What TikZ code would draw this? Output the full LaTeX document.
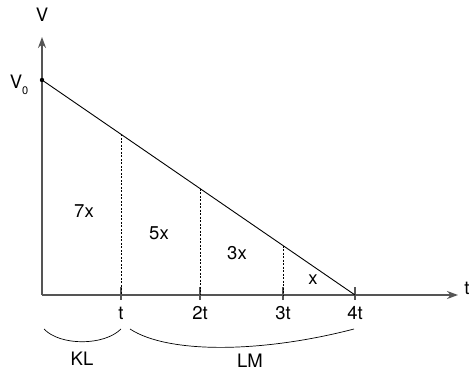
\documentclass[tikz,border=0pt]{standalone}
\usepackage{fontspec}
\setmainfont{TeX Gyre Heros}
\usetikzlibrary{arrows.meta,positioning}
\definecolor{axisGray}{RGB}{85, 85, 85}

\begin{document}
\begin{tikzpicture}[x=1pt,y=1pt,
          axis/.style={axisGray,line width=1.6pt,-{Stealth[length=11pt,width=8pt]}},
          tick/.style={axisGray,line width=1.2pt},
          guide/.style={black,line width=0.8pt,dash pattern=on 2pt off 1.5pt},
          lbl/.style={font=\fontsize{18.5}{20}\selectfont,inner sep=1pt},
          brace/.style={black,line width=0.7pt},
        ]
        \useasboundingbox (0,0) rectangle (470,374);
        % AXES
        \coordinate (o)    at (42,79);
        \coordinate (ytop) at (42,337);
        \coordinate (xend) at (458,79);
        \draw[axis](o)--(ytop);
        \draw[axis](o)--(xend);
        \node[lbl](vlab) at (42,359){V};
        \node[lbl](tlab) at (467,86){t};

        % TICKS
        \foreach \x/\lab/\nm in {121/t/t1,200/2t/t2,283/3t/t3,355/4t/t4}{
          \draw[tick](\x,74)--(\x,87);
          \node[lbl](\nm) at (\x,61){\lab};
        }

        % SLOPE
        \coordinate (v0) at (42,294);
        \coordinate (p4) at (355,79);
        \draw[black,line width=0.9pt](v0)--(p4)
          coordinate[pos=0.2524](s1) coordinate[pos=0.5048](s2) coordinate[pos=0.77](s3);
        \fill (v0) circle (2.2pt);
        \node[lbl](v0lab) at (19,289){V\raisebox{-0.55ex}{\fontsize{11}{12}\selectfont 0}};
        \draw[guide](s1)--(s1 |- o);
        \draw[guide](s2)--(s2 |- o);
        \draw[guide](s3)--(s3 |- o);

        % AREAS
        \node[lbl](a1) at (84,163){7x};
        \node[lbl](a2) at (159,141){5x};
        \node[lbl](a3) at (237,121){3x};
        \node[lbl](a4) at (313,94){x};

        % BRACES
        \coordinate (kl1) at (44,45);
        \coordinate (kl2) at (121,45);
        \coordinate (lm1) at (130,45);
        \coordinate (lm2) at (354,45);
        \draw[brace](kl1) .. controls (60,28) and (104,28) .. (kl2);
        \draw[brace](lm1) .. controls (168,20) and (262,21) .. (lm2);
        \node[lbl](kl) at (82,15){KL};
        \node[lbl](lm) at (250,13){LM};
      \end{tikzpicture}
\end{document}
